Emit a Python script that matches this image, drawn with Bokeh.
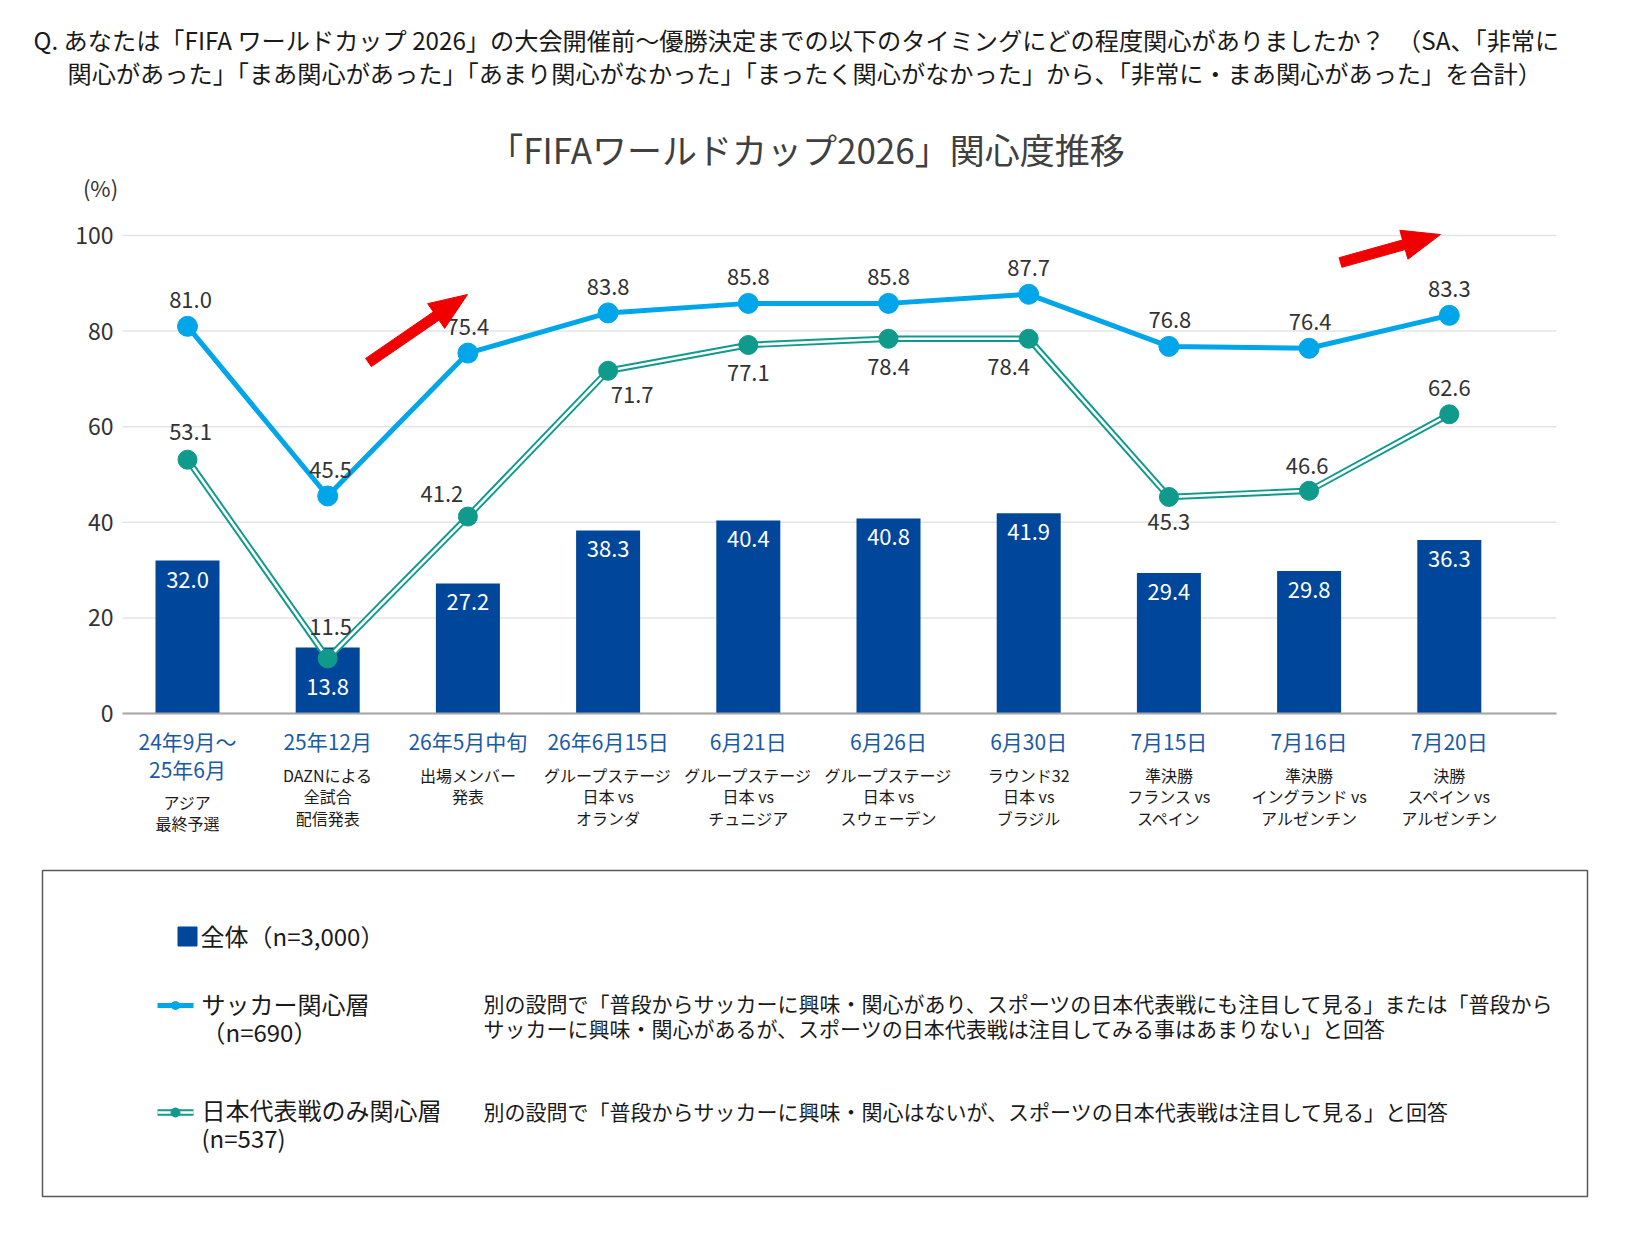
from bokeh.plotting import figure
from bokeh.models import Range1d, FixedTicker, LinearAxis
from bokeh.embed import file_html
from bokeh.resources import INLINE
from bokeh.core.properties import value
import math

# ---------------- data ----------------
dates = ["24年9月～\n25年6月", "25年12月", "26年5月中旬", "26年6月15日", "6月21日",
         "6月26日", "6月30日", "7月15日", "7月16日", "7月20日"]
events = ["アジア\n最終予選", "DAZNによる\n全試合\n配信発表", "出場メンバー\n発表",
          "グループステージ\n日本 vs\nオランダ", "グループステージ\n日本 vs\nチュニジア",
          "グループステージ\n日本 vs\nスウェーデン", "ラウンド32\n日本 vs\nブラジル",
          "準決勝\nフランス vs\nスペイン", "準決勝\nイングランド vs\nアルゼンチン",
          "決勝\nスペイン vs\nアルゼンチン"]
overall = [32.0, 13.8, 27.2, 38.3, 40.4, 40.8, 41.9, 29.4, 29.8, 36.3]
soccer_fans = [81.0, 45.5, 75.4, 83.8, 85.8, 85.8, 87.7, 76.8, 76.4, 83.3]
japan_only = [53.1, 11.5, 41.2, 71.7, 77.1, 78.4, 78.4, 45.3, 46.6, 62.6]
y_ticks = [0, 20, 40, 60, 80, 100]

series_names = ["全体（n=3,000）", "サッカー関心層\n（n=690）", "日本代表戦のみ関心層\n(n=537)"]
series_notes = ["",
                "別の設問で「普段からサッカーに興味・関心があり、スポーツの日本代表戦にも注目して見る」または「普段から\n"
                "サッカーに興味・関心があるが、スポーツの日本代表戦は注目してみる事はあまりない」と回答",
                "別の設問で「普段からサッカーに興味・関心はないが、スポーツの日本代表戦は注目して見る」と回答"]

question = ["Q. あなたは「FIFA ワールドカップ 2026」の大会開催前～優勝決定までの以下のタイミングにどの程度関心がありましたか？　（SA、「非常に",
            "関心があった」「まあ関心があった」「あまり関心がなかった」「まったく関心がなかった」から、「非常に・まあ関心があった」を合計）"]
chart_title = "「FIFAワールドカップ2026」関心度推移"
unit_label = "(%)"

# ---------------- styles / layout (pixel geometry) ----------------
FONT = "Noto Sans CJK JP"
BAR = "#00469b"
BLUE = "#00a6e9"
TEAL = "#109a8b"
RED = "#f00000"
DATE_BLUE = "#1a5aa5"
TXT = "#333333"
BLACK = "#1a1a1a"

W, H = 1612, 1219
PL, PR, PT, PB = 122, 1556, 235, 713      # plot area in page pixels
X0, DX = 187.0, 140.2                     # first category centre, category pitch
PPU = (PB - PT) / 100.0                   # pixels per percent


def dxp(sx):
    return (sx - X0) / DX


def dyp(sy):
    return (PB - sy) / PPU


idx = list(range(len(overall)))

p = figure(width=W, height=H, output_backend="svg", toolbar_location=None,
           x_range=Range1d(dxp(0), dxp(W)), y_range=Range1d(dyp(H), dyp(0)),
           x_axis_type=None, y_axis_type=None, min_border=0)
p.outline_line_color = None
p.background_fill_color = "white"
p.xgrid.grid_line_color = None
p.ygrid.grid_line_color = None

# axes placed at the plot-area edges
yax = LinearAxis(fixed_location=dxp(PL), ticker=FixedTicker(ticks=y_ticks), bounds=(0, 100))
yax.axis_line_color = None
yax.major_tick_line_color = None
yax.minor_tick_line_color = None
yax.major_label_text_font = FONT
yax.major_label_text_font_size = "23px"
yax.major_label_text_color = TXT
yax.major_label_standoff = 3
p.add_layout(yax, "left")

# horizontal grid lines
p.segment(x0=[dxp(PL)] * len(y_ticks), x1=[dxp(PR)] * len(y_ticks), y0=y_ticks, y1=y_ticks,
          line_color="#e4e4e4", line_width=1.5)

# bars
p.vbar(x=idx, top=overall, width=64 / DX, fill_color=BAR, line_color=None)

xax = LinearAxis(fixed_location=0, ticker=FixedTicker(ticks=idx), bounds=(dxp(PL), dxp(PR)))
xax.major_label_overrides = {i: d for i, d in enumerate(dates)}
xax.major_tick_line_color = None
xax.minor_tick_line_color = None
xax.axis_line_color = "#a6a6a6"
xax.axis_line_width = 2
xax.major_label_text_font = FONT
xax.major_label_text_font_size = "21px"
xax.major_label_text_color = DATE_BLUE
xax.major_label_text_line_height = 0.935
xax.major_label_standoff = 6
p.add_layout(xax, "below")

# soccer fans line
p.line(idx, soccer_fans, line_width=5, color=BLUE)
p.scatter(idx, soccer_fans, size=20, color=BLUE)

# Japan-only double line
p.line(idx, japan_only, line_width=6.5, color=TEAL)
p.line(idx, japan_only, line_width=2.6, color="white")
p.scatter(idx, japan_only, size=19, color=TEAL)

# data labels (offsets in px)
bar_drop = [19, 39, 19, 19, 19, 19, 19, 19, 19, 19]
blue_dx = [3, 3, 0, 0, 0, 0, 0, 1, 1, 0]
blue_dy = [26] * 10
teal_dx = [3, 3, -26, 24, 0, 0, -20, 0, -2, 0]
teal_dy = [28, 32, 23, -24, -28, -28, -28, -25, 25, 26]

lab_kw = dict(text_align="center", text_baseline="middle", text_font=value(FONT),
              text_font_size="22px")
p.text(x=idx, y=[v - d / PPU for v, d in zip(overall, bar_drop)],
       text=[f"{v:.1f}" for v in overall], text_color="white", **lab_kw)
p.text(x=[i + a / DX for i, a in zip(idx, blue_dx)],
       y=[v + d / PPU for v, d in zip(soccer_fans, blue_dy)],
       text=[f"{v:.1f}" for v in soccer_fans], text_color=TXT, **lab_kw)
p.text(x=[i + a / DX for i, a in zip(idx, teal_dx)],
       y=[v + d / PPU for v, d in zip(japan_only, teal_dy)],
       text=[f"{v:.1f}" for v in japan_only], text_color=TXT, **lab_kw)


# red arrows (pixel geometry converted to data units)
def arrow_patch(tail, tip, shaft_hw=5.0, head_len=38.0, head_hw=15.0):
    ux, uy = tip[0] - tail[0], tip[1] - tail[1]
    ln = math.hypot(ux, uy)
    ux, uy = ux / ln, uy / ln
    nx, ny = -uy, ux
    bx, by = tip[0] - head_len * ux, tip[1] - head_len * uy
    pts = [(tail[0] + shaft_hw * nx, tail[1] + shaft_hw * ny),
           (bx + shaft_hw * nx, by + shaft_hw * ny),
           (bx + head_hw * nx, by + head_hw * ny),
           tip,
           (bx - head_hw * nx, by - head_hw * ny),
           (bx - shaft_hw * nx, by - shaft_hw * ny),
           (tail[0] - shaft_hw * nx, tail[1] - shaft_hw * ny)]
    p.patch([dxp(a) for a, _ in pts], [dyp(b) for _, b in pts], color=RED, line_color=RED)


arrow_patch((368, 362), (467, 294))
arrow_patch((1340, 262), (1440, 234))

# header texts
p.text(x=[dxp(33), dxp(67)], y=[dyp(38.5), dyp(72)], text=question, text_align="left",
       text_baseline="middle", text_font=value(FONT), text_font_size="24.2px", text_color=BLACK)
p.text(x=[dxp(806)], y=[dyp(148)], text=[chart_title], text_align="center",
       text_baseline="middle", text_font=value(FONT), text_font_size="35px", text_color="#404040")
p.text(x=[dxp(100)], y=[dyp(186)], text=[unit_label], text_align="center",
       text_baseline="middle", text_font=value(FONT), text_font_size="22px", text_color=TXT)

# event descriptions under the dates
ev_centres = [774 + 27 * d.count("\n") + 21.8 * e.count("\n") / 2 for d, e in zip(dates, events)]
p.text(x=idx, y=[dyp(c) for c in ev_centres], text=events, text_align="center",
       text_baseline="middle", text_line_height=0.908, text_font=value(FONT),
       text_font_size="16px", text_color=BLACK)

# ---------------- legend box ----------------
p.quad(left=[dxp(42)], right=[dxp(1587)], top=[dyp(870)], bottom=[dyp(1196)],
       fill_color=None, line_color="#595959", line_width=1.5)

p.scatter([dxp(187)], [dyp(936)], marker="square", size=19, color=BAR)
p.line([dxp(157), dxp(193)], [dyp(1005), dyp(1005)], line_width=5, color=BLUE)
p.scatter([dxp(175)], [dyp(1005)], size=8, color=BLUE)
p.line([dxp(157), dxp(193)], [dyp(1112), dyp(1112)], line_width=6.5, color=TEAL)
p.line([dxp(157), dxp(193)], [dyp(1112), dyp(1112)], line_width=2.6, color="white")
p.scatter([dxp(175)], [dyp(1112)], size=9, color=TEAL)

name_centres = [935, 1017, 1123]
note_centres = [0, 1015, 1110]
p.text(x=[dxp(200), dxp(201), dxp(201)], y=[dyp(c) for c in name_centres], text=series_names,
       text_align="left", text_baseline="middle", text_line_height=0.787,
       text_font=value(FONT), text_font_size="24px", text_color=BLACK)
p.text(x=[dxp(483)] * 2, y=[dyp(c) for c in note_centres[1:]], text=series_notes[1:],
       text_align="left", text_baseline="middle", text_line_height=0.828,
       text_font=value(FONT), text_font_size="21px", text_color=BLACK)

open("out.html", "w").write(file_html(p, INLINE))
